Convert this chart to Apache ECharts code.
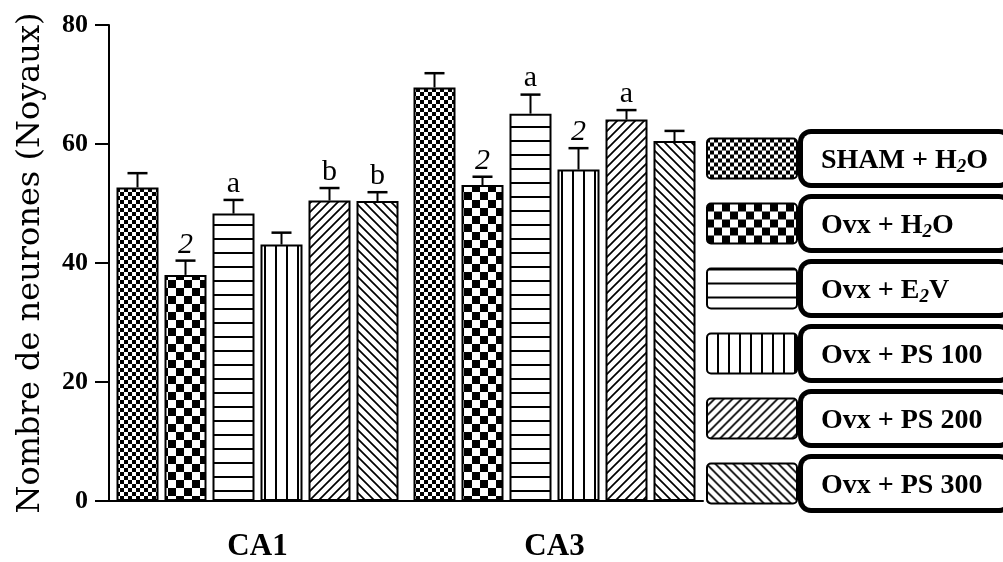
<!DOCTYPE html>
<html>
<head>
<meta charset="utf-8">
<script src="https://cdn.jsdelivr.net/npm/echarts@6/dist/echarts.min.js"></script>
<style>html,body{margin:0;padding:0;background:#fff}#c{width:1003px;height:562px}</style>
</head>
<body>
<div id="c"></div>
<script>
const categories = ['CA1', 'CA3'];
const groupNames = ['SHAM + H2O', 'Ovx + H2O', 'Ovx + E2V', 'Ovx + PS 100', 'Ovx + PS 200', 'Ovx + PS 300'];
const shamH2O = [52.7, 69.5];
const ovxH2O = [38.0, 53.1];
const ovxE2V = [48.3, 65.1];
const ovxPS100 = [43.1, 55.7];
const ovxPS200 = [50.5, 64.1];
const ovxPS300 = [50.4, 60.5];
const shamH2OSem = [2.4, 2.4];
const ovxH2OSem = [2.4, 1.4];
const ovxE2VSem = [2.3, 3.2];
const ovxPS100Sem = [2.0, 3.6];
const ovxPS200Sem = [2.1, 1.6];
const ovxPS300Sem = [1.5, 1.7];
const shamH2OMark = ['', ''];
const ovxH2OMark = ['2', '2'];
const ovxE2VMark = ['a', 'a'];
const ovxPS100Mark = ['', '2'];
const ovxPS200Mark = ['b', 'a'];
const ovxPS300Mark = ['b', ''];
const yTicks = [0, 20, 40, 60, 80];

const means = [shamH2O, ovxH2O, ovxE2V, ovxPS100, ovxPS200, ovxPS300];
const sems = [shamH2OSem, ovxH2OSem, ovxE2VSem, ovxPS100Sem, ovxPS200Sem, ovxPS300Sem];
const marks = [shamH2OMark, ovxH2OMark, ovxE2VMark, ovxPS100Mark, ovxPS200Mark, ovxPS300Mark];

function mk(w, h, draw) {
  const c = document.createElement('canvas');
  c.width = w; c.height = h;
  const g = c.getContext('2d');
  g.fillStyle = '#fff'; g.fillRect(0, 0, w, h);
  g.fillStyle = '#000'; g.strokeStyle = '#000';
  draw(g, w, h);
  return { image: c, repeat: 'repeat' };
}
const patterns = [
  mk(8, 8, (g) => { g.fillRect(0, 0, 4, 4); g.fillRect(4, 4, 4, 4); }),
  mk(16, 16, (g) => { g.fillRect(0, 0, 8, 8); g.fillRect(8, 8, 8, 8); }),
  mk(4, 14, (g) => { g.fillRect(0, 0, 4, 2); }),
  mk(11, 4, (g) => { g.fillRect(0, 0, 2, 4); }),
  mk(9, 9, (g, s) => { g.lineWidth = 1.7; g.beginPath(); g.moveTo(0, s); g.lineTo(s, 0); g.moveTo(-2, 2); g.lineTo(2, -2); g.moveTo(s - 2, s + 2); g.lineTo(s + 2, s - 2); g.stroke(); }),
  mk(9, 9, (g, s) => { g.lineWidth = 1.7; g.beginPath(); g.moveTo(0, 0); g.lineTo(s, s); g.moveTo(-2, s - 2); g.lineTo(2, s + 2); g.moveTo(s - 2, -2); g.lineTo(s + 2, 2); g.stroke(); })
];

const BAR_W = 42, SLOT = 48;
const serif = 'Liberation Serif';

const barSeries = groupNames.map((name, i) => ({
  type: 'bar',
  name: name,
  data: means[i],
  barWidth: BAR_W,
  barGap: ((SLOT - BAR_W) / BAR_W * 100) + '%',
  itemStyle: { color: patterns[i], borderColor: '#000', borderWidth: 2 },
  emphasis: { disabled: true },
  z: 2
}));

const errData = [];
means.forEach((arr, gi) => arr.forEach((v, ci) => errData.push([ci, v, sems[gi][ci], gi, marks[gi][ci]])));

const errSeries = {
  type: 'custom',
  data: errData,
  z: 5,
  silent: true,
  renderItem: function (params, api) {
    const ci = api.value(0), v = api.value(1), s = api.value(2), gi = api.value(3);
    const mark = errData[params.dataIndex][4];
    const base = api.coord([ci, v]);
    const cap = api.coord([ci, v + s]);
    const x = base[0] + (gi - 2.5) * SLOT;
    const children = [
      { type: 'line', shape: { x1: x, y1: base[1], x2: x, y2: cap[1] }, style: { stroke: '#000', lineWidth: 2 } },
      { type: 'line', shape: { x1: x - 10, y1: cap[1], x2: x + 10, y2: cap[1] }, style: { stroke: '#000', lineWidth: 2.5 } }
    ];
    if (mark) {
      children.push({
        type: 'text',
        style: {
          x: x, y: cap[1] - 1, text: mark,
          align: 'center', verticalAlign: 'bottom',
          font: (mark === '2' ? 'italic ' : '') + '30px "Liberation Serif"',
          fill: '#000'
        }
      });
    }
    return { type: 'group', children: children };
  }
};

const richSub = { fontFamily: serif, fontWeight: 'bold', fontStyle: 'italic', fontSize: 19, color: '#000', lineHeight: 20, verticalAlign: 'bottom' };
const richMain = { fontFamily: serif, fontWeight: 'bold', fontSize: 28, color: '#000', lineHeight: 32 };

const chart = echarts.init(document.getElementById('c'), null, { renderer: 'canvas' });
chart.setOption({
  animation: false,
  backgroundColor: '#fff',
  grid: { left: 109, right: 300, top: 25, bottom: 60, containLabel: false },
  legend: {
    orient: 'vertical',
    left: 701, top: 124,
    itemWidth: 92, itemHeight: 40, itemGap: 6,
    icon: 'path://M4,0 H86 A4,4 0 0 1 90,4 V36 A4,4 0 0 1 86,40 H4 A4,4 0 0 1 0,36 V4 A4,4 0 0 1 4,0 Z',
    selectedMode: false,
    data: groupNames,
    formatter: function (n) {
      const t = n.replace(/(H|E)2/, '$1{s|2}');
      return '{m|' + t.replace(/\{s\|2\}/, '}{s|2}{m|') + '}';
    },
    textStyle: {
      fontFamily: serif, fontWeight: 'bold', fontSize: 28, color: '#000',
      borderColor: '#000', borderWidth: 5, borderRadius: 8,
      backgroundColor: '#fff',
      padding: [11, 10, 6, 18], width: 176,
      rich: { m: richMain, s: richSub }
    }
  },
  xAxis: {
    type: 'category',
    data: categories,
    axisLine: { lineStyle: { color: '#000', width: 2 } },
    axisTick: { alignWithLabel: true, length: 20, lineStyle: { color: '#000', width: 2 } },
    axisLabel: { color: '#000', fontFamily: serif, fontWeight: 'bold', fontSize: 31, margin: 30 }
  },
  yAxis: {
    type: 'value',
    min: 0, max: 80, interval: 20,
    splitLine: { show: false },
    axisLine: { show: true, lineStyle: { color: '#000', width: 2 } },
    axisTick: { show: true, length: 14, lineStyle: { color: '#000', width: 2 } },
    axisLabel: { color: '#000', fontFamily: serif, fontWeight: 'bold', fontSize: 26, margin: 21,
      formatter: function (v) { return yTicks.indexOf(v) >= 0 ? String(v) : ''; } },
    name: 'Nombre de neurones (Noyaux)',
    nameLocation: 'middle',
    nameGap: 62,
    nameTextStyle: { color: '#000', fontFamily: 'DejaVu Serif', fontSize: 32 }
  },
  series: barSeries.concat([errSeries])
});
</script>
</body>
</html>
